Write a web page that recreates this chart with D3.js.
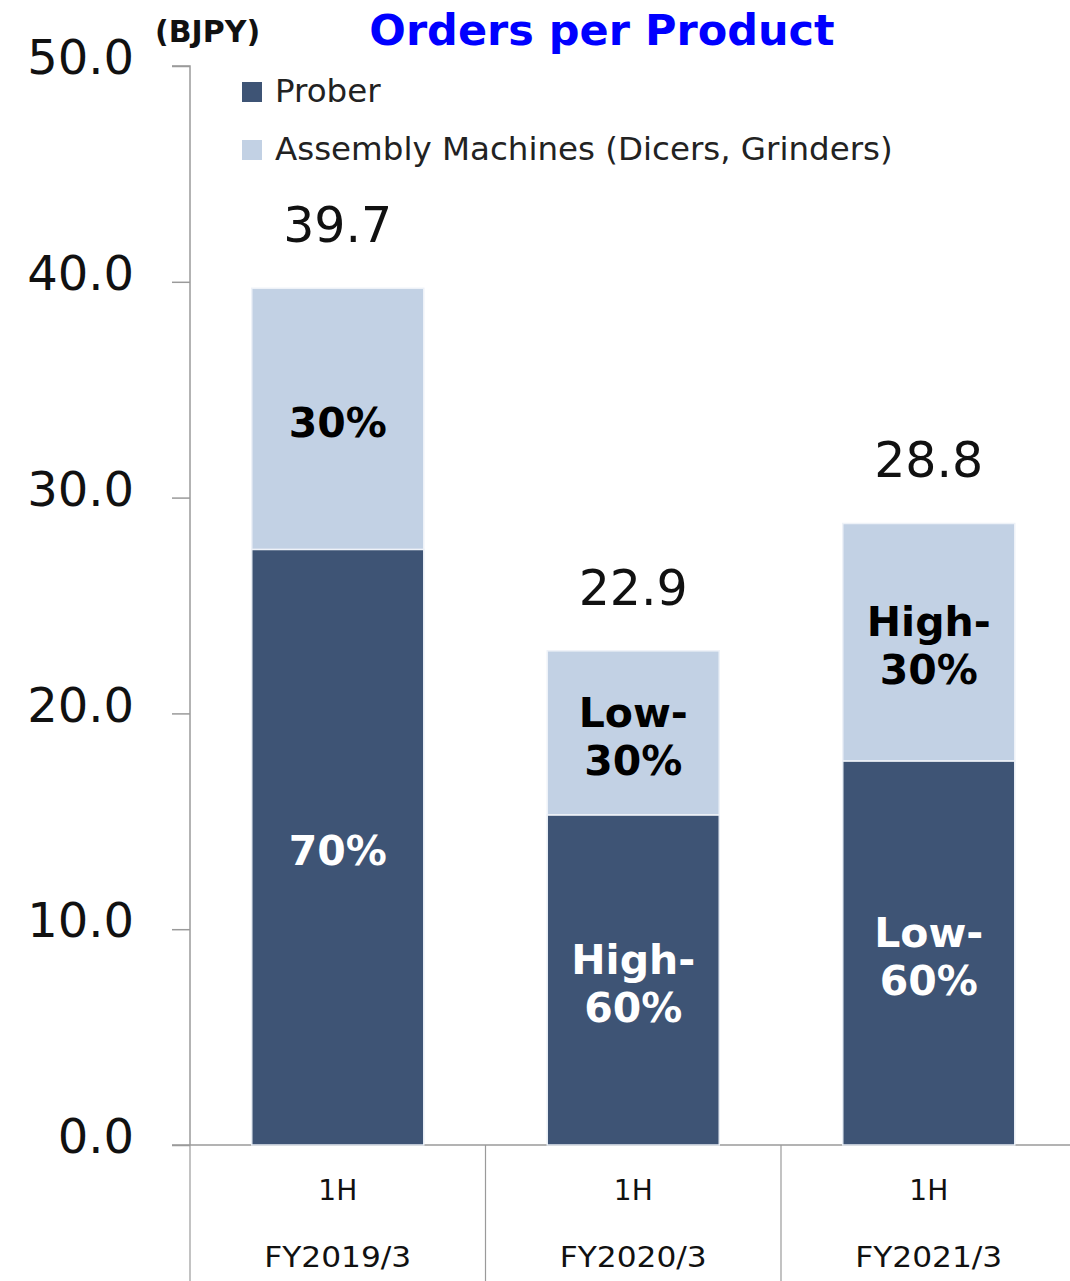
<!DOCTYPE html>
<html>
<head>
<meta charset="utf-8">
<script src="https://cdn.jsdelivr.net/npm/d3@7"></script>
<style>
  html, body { margin: 0; padding: 0; background: #ffffff; }
  svg { display: block; font-family: "DejaVu Sans", Verdana, sans-serif; }
</style>
</head>
<body>
<svg id="chart" width="1070" height="1281"></svg>
<script>
// ---- data ----
const categories = ["FY2019/3", "FY2020/3", "FY2021/3"];
const periodLabels = ["1H", "1H", "1H"];
const proberValues = [27.6, 15.3, 17.8];
const assemblyValues = [12.1, 7.6, 11.0];
const totalLabels = ["39.7", "22.9", "28.8"];
const proberShareLabels = [["70%"], ["High-", "60%"], ["Low-", "60%"]];
const assemblyShareLabels = [["30%"], ["Low-", "30%"], ["High-", "30%"]];
const yTicks = [0, 10, 20, 30, 40, 50];
const seriesNames = ["Prober", "Assembly Machines (Dicers, Grinders)"];
const title = "Orders per Product";
const unitLabel = "(BJPY)";

// ---- layout ----
const svg = d3.select("#chart");
const axisColor = "#9a9a9a";
const darkColor = "#3e5475";
const lightColor = "#c2d1e4";

const x = d3.scaleBand().domain(categories).range([190, 1076.5]).paddingInner(0).paddingOuter(0);
const y = d3.scaleLinear().domain([0, 50]).range([1145, 66]);
const barW = 172;

// y axis
const yAxis = d3.axisLeft(y).tickValues(yTicks).tickFormat(d3.format(".1f")).tickSize(18).tickPadding(38);
const gy = svg.append("g").attr("transform", "translate(190,0)").call(yAxis);
gy.select(".domain").attr("stroke", axisColor).attr("stroke-width", 1.5).attr("d", `M-18,${y(50)}H0V${y(0)}`);
gy.selectAll(".tick line").attr("stroke", axisColor).attr("stroke-width", 1.5);
gy.selectAll(".tick text").attr("font-size", 48).attr("fill", "#111").attr("dy", "0.16em")
  .attr("font-family", "DejaVu Sans, Verdana, sans-serif");

// x axis baseline and separators
svg.append("line").attr("x1", 172).attr("x2", 1070).attr("y1", y(0)).attr("y2", y(0))
  .attr("stroke", axisColor).attr("stroke-width", 1.5);
const edges = categories.map(c => x(c)).concat([x(categories[2]) + x.bandwidth()]);
svg.selectAll(".sep").data(edges).join("line")
  .attr("x1", d => d).attr("x2", d => d).attr("y1", y(0)).attr("y2", 1281)
  .attr("stroke", axisColor).attr("stroke-width", 1.2);

// category labels
svg.selectAll(".per").data(categories).join("text")
  .attr("x", d => x(d) + x.bandwidth() / 2).attr("y", 1200)
  .attr("text-anchor", "middle").attr("font-size", 28).attr("fill", "#111")
  .text((d, i) => periodLabels[i]);
svg.selectAll(".cat").data(categories).join("text")
  .attr("x", d => x(d) + x.bandwidth() / 2).attr("y", 1267)
  .attr("text-anchor", "middle").attr("font-size", 28).attr("fill", "#111")
  .attr("textLength", 147).attr("lengthAdjust", "spacingAndGlyphs")
  .text(d => d);

// bars
const cx = d => x(d) + x.bandwidth() / 2;
svg.selectAll(".prober").data(categories).join("rect")
  .attr("x", d => cx(d) - barW / 2).attr("width", barW)
  .attr("y", (d, i) => y(proberValues[i])).attr("height", (d, i) => y(0) - y(proberValues[i]))
  .attr("fill", darkColor).attr("stroke", "#e8edf4").attr("stroke-width", 1.5);
svg.selectAll(".assembly").data(categories).join("rect")
  .attr("x", d => cx(d) - barW / 2).attr("width", barW)
  .attr("y", (d, i) => y(proberValues[i] + assemblyValues[i]))
  .attr("height", (d, i) => y(proberValues[i]) - y(proberValues[i] + assemblyValues[i]))
  .attr("fill", lightColor).attr("stroke", "#eef2f8").attr("stroke-width", 1.5);

// total labels
svg.selectAll(".total").data(categories).join("text")
  .attr("x", d => cx(d)).attr("y", (d, i) => y(proberValues[i] + assemblyValues[i]) - 46)
  .attr("text-anchor", "middle").attr("font-size", 49).attr("fill", "#111")
  .text((d, i) => totalLabels[i]);

// share labels
categories.forEach((c, i) => {
  const pMid = (y(0) + y(proberValues[i])) / 2;
  const aMid = (y(proberValues[i]) + y(proberValues[i] + assemblyValues[i])) / 2;
  [[proberShareLabels[i], pMid, "#ffffff"], [assemblyShareLabels[i], aMid, "#000000"]].forEach(([lines, mid, color]) => {
    const n = lines.length;
    const lh = 48;
    const t = svg.append("text").attr("text-anchor", "middle").attr("font-size", 41)
      .attr("font-weight", "bold").attr("fill", color);
    lines.forEach((ln, k) => {
      t.append("tspan").attr("x", cx(c)).attr("y", mid + 18 + (k - (n - 1) / 2) * lh).text(ln);
    });
  });
});

// legend
const legY = [92, 150];
const legColors = [darkColor, lightColor];
seriesNames.forEach((s, i) => {
  svg.append("rect").attr("x", 242).attr("y", legY[i] - 10).attr("width", 20).attr("height", 20).attr("fill", legColors[i]);
  svg.append("text").attr("x", 275).attr("y", legY[i] + 10).attr("font-size", 32.5).attr("fill", "#222").text(s);
});

// title and unit
svg.append("text").attr("x", 602).attr("y", 45).attr("text-anchor", "middle")
  .attr("font-size", 43).attr("font-weight", "bold").attr("fill", "#0000ff").text(title);
svg.append("text").attr("x", 155).attr("y", 42).attr("font-size", 30).attr("font-weight", "bold")
  .attr("fill", "#111").text(unitLabel);
</script>
</body>
</html>
